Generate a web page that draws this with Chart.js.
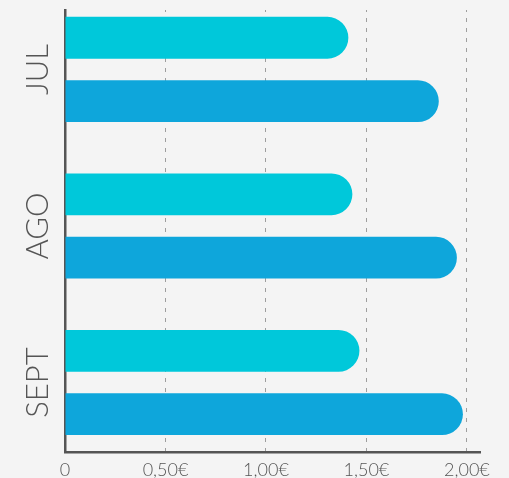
<!DOCTYPE html>
<html>
<head>
<meta charset="utf-8">
<script src="https://cdn.jsdelivr.net/npm/chart.js@4/dist/chart.umd.min.js"></script>
<style>
  html, body { margin: 0; padding: 0; background: #f4f4f4; }
  #wrap { width: 509px; height: 478px; }
</style>
</head>
<body>
<div id="wrap"><canvas id="priceChart"></canvas></div>
<script>
// Values (euros)
const months = ['JUL', 'AGO', 'SEPT'];
const seriesA = [1.41, 1.43, 1.465];   // light cyan, top bar
const seriesB = [1.86, 1.95, 1.98];    // blue, bottom bar
const xTicks = [0, 0.5, 1, 1.5, 2];
const xTickLabels = ['0', '0,50€', '1,00€', '1,50€', '2,00€'];

const AXIS = '#555555';

const data = {
    datasets: [
        {
            label: 'A',
            data: months.map((m, i) => ({ x: seriesA[i], y: i })),
            backgroundColor: '#00c8da',
            borderRadius: 21,
            borderSkipped: 'start'
        },
        {
            label: 'B',
            data: months.map((m, i) => ({ x: seriesB[i], y: i })),
            backgroundColor: '#0ea6db',
            borderRadius: 21,
            borderSkipped: 'start'
        }
    ]
};

const config = {
    type: 'bar',
    data: data,
    options: {
        indexAxis: 'y',
        responsive: true,
        maintainAspectRatio: false,
        animation: false,
        categoryPercentage: 0.81,
        barPercentage: 0.66,
        layout: {
            padding: { top: 10, right: 29, left: 0, bottom: 0 }
        },
        plugins: {
            legend: { display: false },
            tooltip: { enabled: false }
        },
        scales: {
            x: {
                type: 'linear',
                min: 0,
                max: 2.065,
                afterBuildTicks: function(scale) {
                    scale.ticks = xTicks.map(v => ({ value: v }));
                },
                afterFit: function(scale) {
                    scale.height = 26;
                    scale.paddingLeft = 0;
                    scale.paddingRight = 0;
                },
                ticks: {
                    color: AXIS,
                    padding: 7,
                    font: { family: 'Lato', size: 18, weight: 300 },
                    callback: function(value) {
                        const i = xTicks.indexOf(value);
                        return i >= 0 ? xTickLabels[i] : '';
                    }
                },
                grid: {
                    drawTicks: false,
                    color: function(ctx) { return ctx.tick && ctx.tick.value === 0 ? 'rgba(0,0,0,0)' : '#9e9e9e'; },
                    lineWidth: 1
                },
                border: { display: true, color: AXIS, width: 2.5, dash: [4, 6], dashOffset: 2 }
            },
            y: {
                type: 'linear',
                offset: false,
                reverse: true,
                min: -0.38,
                max: 2.444,
                afterBuildTicks: function(scale) {
                    scale.ticks = months.map((m, i) => ({ value: i }));
                },
                afterFit: function(scale) {
                    scale.width = 65;
                    scale.paddingTop = 0;
                    scale.paddingBottom = 0;
                },
                ticks: {
                    color: AXIS,
                    minRotation: 90,
                    maxRotation: 90,
                    crossAlign: 'center',
                    padding: -8,
                    font: { family: 'Lato', size: 31, weight: 300 },
                    callback: function(value) { return months[value]; }
                },
                grid: { display: false, drawTicks: false },
                border: { display: true, color: AXIS, width: 2.5 }
            }
        }
    }
};

const ctx = document.getElementById('priceChart').getContext('2d');
const priceChart = new Chart(ctx, config);
</script>
</body>
</html>
